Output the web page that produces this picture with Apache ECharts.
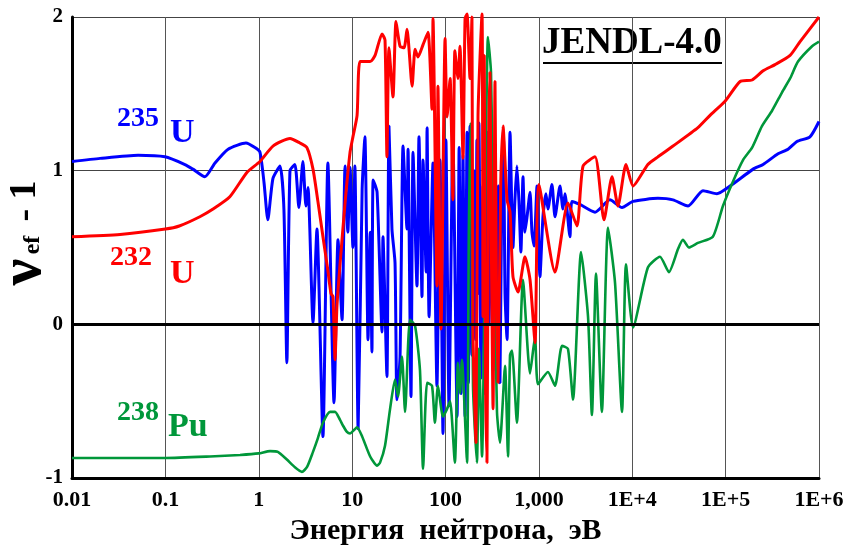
<!DOCTYPE html>
<html><head><meta charset="utf-8">
<script src="https://cdn.jsdelivr.net/npm/echarts@6/dist/echarts.min.js"></script>
<style>html,body{margin:0;padding:0;background:#fff}#c{width:847px;height:548px}</style>
</head><body><div id="c"></div>
<script>
// Energy (eV), value of nu_ef - 1
var u235 = [[0.01,1.06],[0.02,1.08],[0.051,1.10],[0.099,1.09],[0.162,1.04],[0.197,1.01],[0.265,0.96],[0.34,1.05],[0.47,1.14],[0.73,1.18],[0.91,1.15],[1.03,1.12],[1.14,0.92],[1.25,0.68],[1.42,0.95],[1.69,1.03],[1.86,0.75],[2.0,-0.25],[2.16,1.0],[2.44,1.04],[2.69,0.76],[2.97,1.06],[3.2,0.77],[3.37,0.89],[3.81,0.01],[4.2,0.62],[4.87,-0.73],[5.5,1.05],[6.4,-0.51],[7.06,0.55],[7.8,0.03],[8.4,1.03],[9.0,0.6],[9.5,1.02],[10.2,0.5],[10.7,1.03],[11.6,-0.68],[12.8,0.88],[13.7,1.22],[14.8,-0.1],[15.6,0.6],[16.3,-0.18],[16.8,0.94],[18.5,0.86],[20.9,-0.05],[21.4,0.57],[23.6,-0.34],[24.8,1.29],[26.7,0.62],[28.8,0.4],[30.2,-0.49],[32.6,-0.21],[35.1,1.16],[38.7,0.62],[39.7,1.14],[42.7,-0.47],[44.9,1.12],[49.5,0.25],[52,1.22],[56,0.18],[57.5,1.07],[62,0.34],[63.5,1.28],[66.7,0.05],[73.5,1.05],[81,-0.4],[87.4,1.07],[94,-0.71],[101,1.2],[109,-0.53],[120,1.22],[133,-0.6],[140,1.15],[147,-0.45],[154,1.1],[162,-0.6],[170,1.25],[176,-0.38],[183,1.29],[192,-0.2],[202,1.0],[210,-0.1],[217,1.2],[223,0.2],[228,1.31],[240,-0.35],[252,0.9],[265,-0.45],[278,1.25],[292,0.0],[307,1.1],[323,-0.3],[339,1.15],[356,-0.1],[369,0.9],[383,-0.38],[403,1.0],[418,1.2],[434,0.2],[456,-0.1],[491,1.25],[528,0.5],[554,0.81],[582,1.03],[612,0.8],[642,0.47],[676,0.96],[709,0.6],[747,0.7],[804,0.86],[843,0.6],[888,0.51],[955,0.9],[1027,0.31],[1106,0.7],[1191,0.85],[1250,0.75],[1380,0.91],[1488,0.7],[1683,0.9],[1810,0.75],[1903,0.85],[2152,0.57],[2260,0.8],[2755,0.78],[3990,0.73],[5770,0.81],[7770,0.76],[10200,0.8],[18850,0.82],[27300,0.81],[39600,0.77],[57200,0.87],[80700,0.85],[111500,0.9],[197000,1.01],[252000,1.04],[364000,1.11],[466000,1.14],[581000,1.19],[800000,1.22],[1000000,1.32]];

var u232 = [[0.01,0.57],[0.0327,0.585],[0.1,0.62],[0.141,0.64],[0.234,0.7],[0.324,0.75],[0.49,0.83],[0.75,0.99],[1.03,1.06],[1.42,1.16],[2.16,1.21],[2.76,1.18],[3.28,1.15],[3.81,1.01],[4.3,0.8],[4.87,0.57],[5.5,0.35],[5.94,0.2],[6.24,0.18],[6.56,-0.23],[6.88,0.12],[7.4,0.38],[8.4,0.79],[9.5,1.12],[10.2,1.22],[11.3,1.36],[12.15,1.71],[15.6,1.71],[17.6,1.75],[20.9,1.89],[22.5,1.85],[23.6,1.09],[24.8,1.8],[27.4,1.48],[29.5,1.97],[32.6,1.81],[36.0,1.8],[38.7,1.92],[43.9,1.55],[47.2,1.79],[50.8,1.74],[57.5,1.82],[65,1.9],[71.7,1.4],[73.5,1.99],[81,0.25],[83,1.55],[89.5,-0.03],[99,1.86],[104,1.35],[112,1.6],[120,0.81],[126,1.78],[136,1.6],[143,1.81],[154,1.08],[162,1.99],[170,2.02],[183,1.6],[192,2.0],[197,-0.05],[212,-0.77],[223,1.36],[246,2.02],[252,0.05],[260,1.75],[268,-0.3],[278,-0.9],[290,1.2],[299,1.64],[312,0.3],[323,-0.55],[339,1.58],[352,0.2],[365,-0.38],[390,0.9],[413,1.29],[456,0.81],[491,0.73],[528,0.31],[598,0.21],[710,0.44],[804,0.29],[910,-0.12],[1000,0.91],[1488,0.34],[2050,0.79],[2560,0.64],[2970,1.03],[3990,1.09],[4980,0.68],[6070,0.96],[7030,0.77],[8570,1.04],[10200,0.9],[14700,1.04],[18850,1.09],[27300,1.16],[50500,1.28],[68100,1.36],[98000,1.45],[143000,1.58],[192000,1.59],[252000,1.65],[338000,1.69],[490000,1.75],[627000,1.84],[1000000,2.0]];

var pu238 = [[0.01,-0.87],[0.1,-0.87],[0.3,-0.86],[0.63,-0.85],[1.0,-0.84],[1.32,-0.825],[1.6,-0.83],[2.0,-0.88],[2.44,-0.93],[2.9,-0.96],[3.28,-0.93],[3.81,-0.83],[4.3,-0.74],[4.87,-0.64],[5.8,-0.57],[6.56,-0.57],[7.4,-0.62],[8.0,-0.66],[8.8,-0.7],[9.5,-0.71],[10.4,-0.69],[11.3,-0.67],[12.8,-0.73],[15.6,-0.86],[18.5,-0.92],[19.9,-0.9],[22.5,-0.79],[25.5,-0.55],[28.8,-0.36],[31.0,-0.47],[34.2,-0.21],[36.9,-0.57],[41.7,0.03],[47.2,-0.01],[53.3,-0.3],[57.5,-0.94],[63.5,-0.38],[71.7,-0.4],[77,-0.64],[83,-0.4],[94,-0.6],[104,-0.55],[112,-0.5],[126,-0.9],[136,-0.25],[143,-0.45],[150,-0.23],[170,-0.9],[178,0.64],[187,1.31],[197,-0.4],[217,-0.9],[228,-0.16],[246,-0.86],[285,1.87],[307,1.64],[323,0.81],[356,-0.57],[383,-0.77],[434,-0.27],[467,-0.86],[491,-0.2],[515,-0.17],[582,-0.64],[676,0.29],[804,-0.32],[910,-0.08],[978,-0.39],[1250,-0.31],[1488,-0.4],[1770,-0.14],[2050,-0.16],[2320,-0.49],[2830,0.47],[3360,0.05],[3700,-0.59],[4090,0.33],[4730,-0.57],[5500,0.63],[6540,0.27],[7770,-0.57],[8570,0.39],[10200,-0.02],[14700,0.37],[19800,0.44],[24700,0.34],[30900,0.49],[34900,0.55],[40500,0.5],[50500,0.53],[73000,0.57],[93600,0.77],[120000,0.93],[154000,1.07],[192000,1.15],[245000,1.29],[314000,1.39],[402000,1.51],[490000,1.6],[596000,1.71],[843000,1.81],[1000000,1.84]];

var xTickLabels = ['0.01','0.1','1','10','100','1,000','1E+4','1E+5','1E+6'];
var yTickLabels = ['-1','0','1','2'];

var FONT = 'Liberation Serif';
var chart = echarts.init(document.getElementById('c'), null, {renderer:'canvas'});

function xLabel(v){
  var i = Math.round(Math.log(v)/Math.LN10) + 2;
  return xTickLabels[i] || '';
}
function yLabel(v){
  var i = Math.round(v) + 1;
  return yTickLabels[i] || '';
}

var option = {
  backgroundColor:'#fff',
  animation:false,
  grid:{left:72,right:28,top:17,bottom:70,containLabel:false,outerBoundsMode:'none'},
  xAxis:{
    type:'log', logBase:10, min:0.01, max:1000000, splitNumber:8,
    name:'Энергия  нейтрона,  эВ', nameLocation:'middle', nameGap:37,
    nameTextStyle:{fontFamily:FONT,fontWeight:'bold',fontSize:30,color:'#000',verticalAlign:'top'},
    axisLine:{show:true,onZero:false,lineStyle:{color:'#000',width:3}},
    axisTick:{show:false},
    axisLabel:{formatter:xLabel,fontFamily:FONT,fontWeight:'bold',fontSize:22,color:'#000',margin:11,showMinLabel:true,showMaxLabel:true},
    splitLine:{show:true,lineStyle:{color:'#555',width:1}},
    minorTick:{show:false}
  },
  yAxis:{
    type:'value', min:-1, max:2, interval:1,
    axisLine:{show:true,onZero:false,lineStyle:{color:'#000',width:3}},
    axisTick:{show:false},
    axisLabel:{formatter:yLabel,fontFamily:FONT,fontWeight:'bold',fontSize:21,color:'#000',margin:9},
    splitLine:{show:true,lineStyle:{color:'#444',width:1}}
  },
  series:[
    {type:'line',name:'235U',data:u235,showSymbol:false,symbol:'none',smooth:0.2,
     lineStyle:{color:'#0000ff',width:3},z:2},
    {type:'line',name:'238Pu',data:pu238,showSymbol:false,symbol:'none',smooth:0.2,
     lineStyle:{color:'#00973a',width:2.6},z:3},
    {type:'line',name:'232U',data:u232,showSymbol:false,symbol:'none',smooth:0.2,clip:false,
     lineStyle:{color:'#ff0000',width:3},z:4,
     markLine:{silent:true,symbol:'none',label:{show:false},
       lineStyle:{color:'#000',width:3,type:'solid'},data:[{yAxis:0}]}}
  ],
  graphic:[
    {type:'text',left:117,top:105,style:{text:'235',fill:'#0000ff',font:'bold 28px "Liberation Serif"'}},
    {type:'text',left:170,top:116,style:{text:'U',fill:'#0000ff',font:'bold 34px "Liberation Serif"'}},
    {type:'text',left:110,top:244,style:{text:'232',fill:'#ff0000',font:'bold 28px "Liberation Serif"'}},
    {type:'text',left:170,top:257,style:{text:'U',fill:'#ff0000',font:'bold 34px "Liberation Serif"'}},
    {type:'text',left:117,top:399,style:{text:'238',fill:'#00973a',font:'bold 28px "Liberation Serif"'}},
    {type:'text',left:168,top:410,style:{text:'Pu',fill:'#00973a',font:'bold 34px "Liberation Serif"'}},
    {type:'text',left:542,top:25,style:{text:'JENDL-4.0',fill:'#000',font:'bold 37px "Liberation Serif"'}},
    {type:'line',shape:{x1:543,y1:63,x2:722,y2:63},style:{stroke:'#000',lineWidth:2}},
    {type:'text',x:24,y:272,rotation:Math.PI/2,style:{text:'ν',fill:'#000',font:'bold 60px "Liberation Serif"',textAlign:'center',textVerticalAlign:'middle'}},
    {type:'text',x:33,y:245,rotation:Math.PI/2,style:{text:'ef',fill:'#000',font:'bold 24px "Liberation Serif"',textAlign:'center',textVerticalAlign:'middle'}},
    {type:'text',x:25,y:201,rotation:Math.PI/2,style:{text:'- 1',fill:'#000',font:'bold 38px "Liberation Serif"',textAlign:'center',textVerticalAlign:'middle'}}
  ]
};
chart.setOption(option);
</script></body></html>
